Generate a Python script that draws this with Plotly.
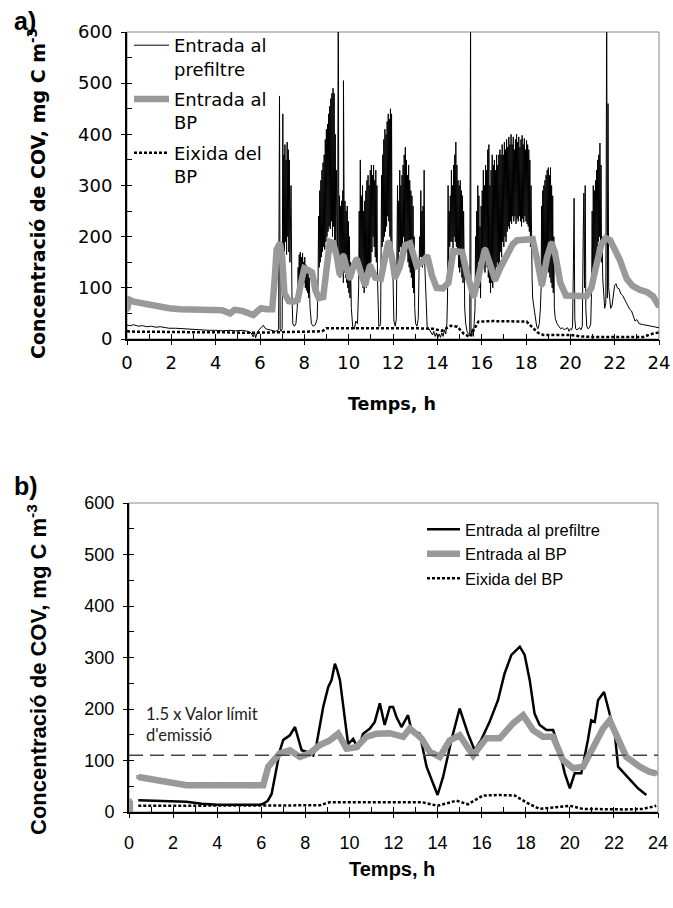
import plotly.graph_objects as go

# ---------------- data: panel a) (raw readings) ----------------
# irregular readings: baseline, isolated spikes and gaps between busy periods
PREF_A_T = [0.00, 0.15, 0.30, 0.50, 0.70, 0.90, 1.10, 1.30, 1.50, 1.70, 1.90, 2.20, 2.50, 2.80, 3.10,
            3.40, 3.70, 4.00, 4.30, 4.60, 4.90, 5.20, 5.45, 5.60, 5.70, 5.75, 5.80, 5.87, 5.95, 6.05,
            6.15, 6.25, 6.40, 6.55, 6.70, 6.84, 6.88, 6.91, 6.95, 7.00, 7.03,
            7.40, 7.44, 7.48, 7.55, 7.62, 7.68,
            8.26, 8.32, 8.40, 8.50, 8.58,
            9.50, 9.53, 9.545, 9.765,
            10.12, 10.18, 10.26, 10.32, 10.40,
            11.36, 11.40, 11.44,
            12.00, 12.04, 12.10, 12.15,
            13.02, 13.08, 13.14,
            13.48, 13.54, 13.62, 13.70, 13.78, 13.84, 13.90, 13.96, 14.02, 14.08, 14.14, 14.20, 14.26,
            14.32, 14.38, 14.43,
            15.28, 15.34, 15.40, 15.46, 15.50, 15.52, 15.58, 15.62, 15.66,
            18.30, 18.36, 18.42, 18.48, 18.54, 18.60, 18.65,
            19.32, 19.40, 19.48, 19.56, 19.64, 19.72, 19.80, 19.88, 19.94, 20.00, 20.06, 20.10, 20.14,
            20.17, 20.20, 20.24, 20.30, 20.36, 20.42, 20.48, 20.54, 20.58, 20.61, 20.64, 20.67, 20.70,
            20.74, 20.80, 20.86, 20.92,
            21.50, 21.55, 21.60, 21.64, 21.67, 21.70, 21.73, 21.76, 21.82, 21.88, 21.94, 22.00, 22.06,
            22.12, 22.20, 22.28, 22.36, 22.44, 22.52, 22.60, 22.68, 22.76, 22.84, 22.92, 23.00, 23.10,
            23.30, 23.50, 23.70, 23.85, 24.00]
PREF_A_V = [27, 26, 28, 25, 26, 24, 25, 23, 24, 22, 21, 21, 20, 19, 18,
            18, 17, 17, 16, 17, 16, 17, 15, 12, 4, 14, 2, 12, 18, 22,
            27, 20, 18, 16, 15, 18, 475, 20, 15, 20, 440,
            300, 90, 30, 25, 30, 60,
            60, 30, 25, 28, 40,
            160, 640, 150, 505,
            60, 25, 20, 35, 30,
            25, 25, 30,
            120, 35, 25, 40,
            30, 25, 40,
            80, 25, 20, 15, 8, 15, 5, 12, 2, 10, 3, 12, 5,
            18, 10, 30,
            30, 15, 10, 8, 640, 10, 20, 5, 30,
            80, 60, 40, 25, 20, 30, 60,
            40, 30, 25, 20, 22, 18, 20, 22, 15, 20, 18, 25, 150,
            275, 40, 20, 18, 20, 22, 18, 25, 200, 285, 100, 300, 60,
            25, 20, 22, 30,
            80, 60, 70, 640, 80, 460, 100, 80, 60, 65, 90, 105, 108,
            100, 98, 88, 85, 78, 72, 65, 58, 55, 45, 35, 38, 30,
            28, 26, 25, 23, 22]

# busy periods, one reading every 1.5 min (0.025 h) from the listed start hour
STEP_A = 0.025
BLK_0705 = [180, 360, 170, 380, 190, 350, 165, 385, 200, 370, 170, 350, 150]
BLK_0772 = [140, 110, 165, 120, 170, 125, 160, 115, 168, 120, 150, 110, 160, 100, 145, 95, 140, 90,
            130, 80, 120]
BLK_0862 = [120, 240, 140, 290, 150, 310, 160, 330, 170, 345, 180, 360, 175, 390, 190, 410, 200, 420,
            210, 440, 220, 455, 215, 470, 230, 480, 200, 490, 220, 480, 180, 400, 150, 330, 160]
BLK_0956 = [150, 280, 120, 260, 140, 270, 130, 290, 110, 280, 130, 270, 120, 250, 110, 260, 100, 230,
            90, 200, 80, 150]
BLK_1045 = [100, 250, 120, 350, 130, 280, 110, 300, 100, 250, 90, 270, 120, 290, 100, 310, 120, 320,
            140, 300, 120, 330, 150, 340, 170, 320, 200, 340, 180, 310, 160, 330, 150, 300, 120, 80]
BLK_1146 = [150, 320, 180, 360, 190, 390, 200, 410, 210, 400, 220, 425, 240, 440, 230, 430, 200, 450,
            190, 440, 150]
BLK_1218 = [160, 300, 140, 270, 170, 330, 180, 300, 150, 320, 170, 340, 200, 360, 180, 375, 190, 350,
            170, 320, 150, 340, 140, 310, 130, 290, 120, 280, 100, 260, 90, 200, 60]
BLK_1318 = [150, 200, 160, 290, 160, 250, 140, 260, 150, 330, 150, 120]
BLK_1446 = [80, 300, 150, 250, 180, 280, 190, 330, 190, 300, 160, 340, 200, 360, 190, 385, 180, 340,
            170, 310, 140, 300, 130, 310, 140, 290, 120, 280, 110, 250, 90, 60]
BLK_1570 = [60, 200, 110, 250, 120, 300, 150, 280, 100, 220, 80, 260, 130, 290, 150, 330, 140, 300,
            130, 340]
BLK_1620 = [150, 330, 140, 370, 120, 380, 110, 300, 90, 330, 110, 360, 100, 340, 130, 350, 120, 330,
            140, 360, 150, 340, 130, 360,
            150, 370, 170, 360, 160, 380, 190, 360, 180, 385, 200, 370, 190, 390, 210, 375, 220, 395,
            215, 380,
            230, 400, 225, 380, 240, 395, 230, 370, 240, 390, 225, 400, 235, 385, 230, 395, 240, 375,
            230, 390, 220, 398, 235, 380, 228, 392, 240, 370, 230, 388, 225, 380,
            220, 370, 210, 350, 180, 300, 150, 120]
BLK_1868 = [100, 260, 130, 290, 140, 300, 130, 310, 120, 320, 150, 330, 140, 335, 130, 320, 120, 335,
            110, 300, 100, 280, 90, 200, 60]
BLK_2096 = [100, 250, 120, 300, 140, 290, 150, 310, 160, 330, 180, 350, 190, 360, 200, 383, 180, 340,
            150, 200, 120]
BUSY_A = [(7.05, BLK_0705), (7.72, BLK_0772), (8.62, BLK_0862), (9.56, BLK_0956), (10.45, BLK_1045),
          (11.46, BLK_1146), (12.18, BLK_1218), (13.18, BLK_1318), (14.46, BLK_1446),
          (15.70, BLK_1570), (16.20, BLK_1620), (18.68, BLK_1868), (20.96, BLK_2096)]

BP_A_T = [0.00, 0.10, 0.30, 0.60, 1.00, 1.40, 1.90, 2.40, 2.90, 3.40, 3.90, 4.30, 4.65, 4.85, 5.20,
          5.50, 5.70, 5.90, 6.05, 6.30, 6.55, 6.65, 6.75, 6.90, 7.00, 7.10, 7.30, 7.50, 7.70, 7.85,
          8.00, 8.20, 8.35, 8.50, 8.65, 8.85, 9.00, 9.15, 9.30, 9.45, 9.60, 9.76, 9.90, 10.05, 10.20,
          10.36, 10.55, 10.74, 10.96, 11.20, 11.45, 11.62, 11.79, 11.95, 12.09, 12.30, 12.55, 12.77,
          12.95, 13.07, 13.30, 13.55, 13.75, 13.97, 14.25, 14.50, 14.72, 14.95, 15.12, 15.35, 15.65,
          15.85, 16.15, 16.35, 16.60, 16.85, 17.13, 17.40, 17.60, 18.00, 18.30, 18.50, 18.72, 18.95,
          19.15, 19.30, 19.55, 19.80, 20.10, 20.40, 20.73, 20.95, 21.15, 21.40, 21.60, 21.80, 22.00,
          22.24, 22.54, 22.80, 23.14, 23.45, 23.74, 23.90, 24.00]
BP_A_V = [57, 77, 73, 70, 66, 63, 60, 58, 57, 57, 56, 56, 50, 57, 55,
          50, 47, 55, 60, 58, 58, 110, 175, 187, 160, 90, 74, 73, 76, 110,
          138, 134, 130, 95, 80, 82, 140, 190, 188, 164, 125, 164, 140, 118, 140,
          157, 130, 105, 144, 120, 118, 160, 190, 160, 120, 140, 183, 187,
          160, 143, 150, 162, 125, 100, 99, 110, 172, 172, 170, 125, 83,
          120, 176, 150, 115, 140, 165, 185, 193, 195, 195, 155, 105, 160,
          188, 170, 110, 85, 86, 84, 84, 100, 140, 185, 197, 193, 175,
          154, 118, 104, 96, 92, 83, 70, 64]

OUT_A_T = [0.0, 0.5, 1.5, 2.5, 3.5, 4.5, 5.5, 6.5, 7.5, 8.5, 8.8, 9.0, 10.0, 11.0, 12.0, 13.0, 13.8,
           14.2, 14.6, 14.9, 15.2, 15.47, 15.65, 15.85, 16.5, 17.0, 17.5, 18.03, 18.3, 18.55, 18.78,
           19.5, 20.0, 20.5, 21.0, 22.0, 23.3, 23.6, 24.0]
OUT_A_V = [15, 14, 14, 13, 13, 13, 12, 13, 14, 14, 15, 21, 21, 22, 22, 21, 20,
           16, 26, 24, 10, 4, 18, 34, 35, 35, 35, 34, 22, 12, 8,
           8, 8, 5, 4, 4, 4, 9, 13]

# ---------------- data: panel b) (smoothed) ----------------
PREF_B_T = [0.42, 1.0, 1.8, 2.6, 3.3, 4.0, 5.0, 5.94, 6.09, 6.30, 6.47, 6.70, 6.85, 7.0, 7.3, 7.53,
            7.68, 7.83, 8.05, 8.36, 8.51, 8.81, 9.04, 9.19, 9.34, 9.45, 9.57, 9.72, 9.94, 10.17,
            10.40, 10.62, 10.93, 11.15, 11.38, 11.60, 11.83, 11.98, 12.13, 12.36, 12.66, 12.81,
            13.19, 13.50, 13.72, 14.0, 14.25, 14.63, 15.0, 15.38, 15.68, 15.98, 16.36, 16.74, 17.04,
            17.35, 17.73, 17.95, 18.18, 18.40, 18.63, 18.94, 19.24, 19.46, 19.77, 20.0, 20.22,
            20.52, 20.82, 20.97, 21.13, 21.28, 21.55, 21.81, 22.04, 22.19, 22.41, 22.71, 23.09, 23.47]
PREF_B_V = [23, 22, 21, 20, 16, 14, 14, 14, 16, 22, 35, 88, 120, 140, 149, 165,
            140, 120, 117, 110, 132, 204, 243, 256, 288, 275, 256, 204, 132, 142,
            123, 152, 162, 175, 211, 169, 204, 204, 185, 165, 188, 159,
            152, 88, 62, 33, 68, 140, 201, 152, 120, 140, 175, 217, 269,
            305, 321, 305, 256, 191, 169, 159, 159, 132, 75, 46, 75,
            75, 140, 178, 175, 217, 233, 188, 152, 88, 78, 65, 46, 33]

BP_B_T = [0.04, 0.04, None, 0.42, 1.0, 1.86, 2.61, 3.3, 4.1, 4.9, 5.64, 6.09, 6.32, 6.54, 6.84, 7.3,
          7.75, 8.2, 8.66, 9.11, 9.49, 9.87, 10.32, 10.77, 11.23, 11.83, 12.44, 12.74, 13.27,
          13.64, 14.1, 14.55, 15.0, 15.61, 16.21, 16.82, 17.42, 17.88, 18.33, 18.78, 19.24,
          19.69, 20.15, 20.6, 21.06, 21.51, 21.81, 22.11, 22.56, 23.17, 23.62, 23.92]
BP_B_V = [0, 22, None, 68, 63, 58, 52, 52, 52, 51, 50, 52, 88, 101, 114, 120,
          107, 114, 130, 139, 152, 123, 126, 146, 152, 153, 146, 162, 143,
          117, 107, 139, 149, 110, 143, 143, 172, 188, 159, 146, 146,
          101, 85, 88, 126, 162, 178, 152, 107, 88, 78, 75]

OUT_B_T = [0.42, 2.0, 4.0, 5.94, 7.0, 8.66, 9.11, 10.0, 11.0, 12.0, 13.3, 14.0, 14.85, 15.38,
           16.06, 16.8, 17.5, 18.18, 18.63, 19.3, 20.0, 20.6, 21.5, 22.5, 23.32, 23.92]
OUT_B_V = [12, 12, 12, 12, 12, 13, 19, 19, 19, 19, 19, 12, 22, 15,
           32, 33, 32, 15, 6, 9, 12, 6, 5, 5, 6, 12]

EMISSION_LIMIT_15 = 110          # 1.5 x valor límit d'emissió
Y_TICKS = [0, 100, 200, 300, 400, 500, 600]
X_TICKS = list(range(0, 25, 2))

# merge the irregular readings with the busy periods into one time-ordered series
pref_a = list(zip(PREF_A_T, PREF_A_V))
for t0, vals in BUSY_A:
    pref_a += [(round(t0 + i * STEP_A, 4), v) for i, v in enumerate(vals)]
pref_a.sort()
pref_a_t = [p[0] for p in pref_a]
pref_a_v = [p[1] for p in pref_a]

# ---------------- page geometry (pixels) ----------------
W, H = 673, 908
def fx(p):
    return p / W
def fy(p):
    return 1 - p / H

GRAY = "#999999"
FONT_A = "DejaVu Sans"
FONT_B = "Liberation Sans, Arial"

fig = go.Figure()

# panel a)
fig.add_trace(go.Scatter(x=pref_a_t, y=pref_a_v, mode="lines", name="Entrada al<br>prefiltre",
                         line=dict(color="black", width=1), xaxis="x", yaxis="y",
                         legend="legend", legendgroup="a1"))
fig.add_trace(go.Scatter(x=BP_A_T, y=BP_A_V, mode="lines+markers", name="Entrada al<br>BP",
                         line=dict(color=GRAY, width=6.5), marker=dict(symbol="square", size=4, color=GRAY),
                         xaxis="x", yaxis="y", legend="legend", legendgroup="a2"))
fig.add_trace(go.Scatter(x=OUT_A_T, y=OUT_A_V, mode="lines", name="Eixida del<br>BP",
                         line=dict(color="black", width=2.5, dash="3px,2px"), xaxis="x", yaxis="y",
                         legend="legend", legendgroup="a3"))

# panel b)
fig.add_trace(go.Scatter(x=PREF_B_T, y=PREF_B_V, mode="lines", name="Entrada al prefiltre",
                         line=dict(color="black", width=2.5), xaxis="x2", yaxis="y2", legend="legend2"))
fig.add_trace(go.Scatter(x=BP_B_T, y=BP_B_V, mode="lines+markers", name="Entrada al BP",
                         line=dict(color=GRAY, width=6.5), marker=dict(symbol="square", size=4, color=GRAY),
                         xaxis="x2", yaxis="y2", legend="legend2", connectgaps=False))
fig.add_trace(go.Scatter(x=OUT_B_T, y=OUT_B_V, mode="lines", name="Eixida del BP",
                         line=dict(color="black", width=2.5, dash="3px,2px"), xaxis="x2", yaxis="y2",
                         legend="legend2"))
fig.add_trace(go.Scatter(x=[0, 24], y=[EMISSION_LIMIT_15, EMISSION_LIMIT_15], mode="lines",
                         line=dict(color="#444444", width=1.5, dash="14px,7px"), showlegend=False,
                         xaxis="x2", yaxis="y2"))

# empty traces that carry the crossing-tick overlay axes
fig.add_trace(go.Scatter(x=[None], y=[None], xaxis="x3", yaxis="y3", showlegend=False))
fig.add_trace(go.Scatter(x=[None], y=[None], xaxis="x4", yaxis="y4", showlegend=False))

dom_x_a = [fx(127), fx(659)]
dom_y_a = [fy(339), fy(32)]
dom_x_b = [fx(129), fx(658)]
dom_y_b = [fy(812), fy(503)]

def base_x(domain, anchor):
    return dict(domain=domain, anchor=anchor, range=[0, 24], showgrid=False, zeroline=False,
                showline=True, linecolor="black", linewidth=2, ticks="inside", dtick=1, tick0=0,
                ticklen=5, tickwidth=1, tickcolor="black", showticklabels=False, fixedrange=True)

def base_y(domain, anchor):
    return dict(domain=domain, anchor=anchor, range=[0, 600], showgrid=False, zeroline=False,
                showline=True, linecolor="black", linewidth=2, ticks="inside", dtick=50, tick0=0,
                ticklen=5, tickwidth=1, tickcolor="black", showticklabels=False, fixedrange=True)

def over_x(base, anchor, font, size, standoff):
    return dict(overlaying=base, anchor=anchor, range=[0, 24], showgrid=False, zeroline=False,
                showline=False, ticks="outside", tickvals=X_TICKS, ticklen=5, tickwidth=1,
                tickcolor="black", tickfont=dict(family=font, size=size, color="black"),
                ticklabelstandoff=standoff, fixedrange=True)

def over_y(base, anchor, font, size, standoff):
    return dict(overlaying=base, anchor=anchor, side="left", range=[0, 600], showgrid=False,
                zeroline=False, showline=False, ticks="outside", tickvals=Y_TICKS, ticklen=5,
                tickwidth=1, tickcolor="black", tickfont=dict(family=font, size=size, color="black"),
                ticklabelstandoff=standoff, fixedrange=True)

fig.update_layout(
    width=W, height=H, margin=dict(l=0, r=0, t=0, b=0, autoexpand=False),
    paper_bgcolor="white", plot_bgcolor="white",
    xaxis=base_x(dom_x_a, "y"), yaxis=base_y(dom_y_a, "x"),
    xaxis2=base_x(dom_x_b, "y2"), yaxis2=base_y(dom_y_b, "x2"),
    xaxis3=over_x("x", "y3", FONT_A, 18, 2), yaxis3=over_y("y", "x3", FONT_A, 18, 5),
    xaxis4=over_x("x2", "y4", FONT_B, 18, 9), yaxis4=over_y("y2", "x4", FONT_B, 18, 5),
    legend=dict(x=fx(129), y=fy(27), xanchor="left", yanchor="top", bgcolor="rgba(0,0,0,0)",
                font=dict(family=FONT_A, size=18, color="black"), valign="top", tracegroupgap=4,
                itemwidth=35),
    legend2=dict(x=fx(422), y=fy(512), xanchor="left", yanchor="top", bgcolor="rgba(0,0,0,0)",
                 font=dict(family=FONT_B, size=16.5, color="black"), tracegroupgap=0, itemwidth=33),
    showlegend=True,
)

# light frame around each plot area
for xr, yr in (("x domain", "y domain"), ("x2 domain", "y2 domain")):
    fig.add_shape(type="rect", xref=xr, yref=yr, x0=0, x1=1, y0=0, y1=1,
                  line=dict(color="#868686", width=1), layer="below")

ann = []
ann.append(dict(text="<b>a)</b>", x=fx(12), y=fy(21), xanchor="left", yanchor="middle",
                font=dict(family=FONT_B, size=25, color="black")))
ann.append(dict(text="<b>b)</b>", x=fx(12), y=fy(486), xanchor="left", yanchor="middle",
                font=dict(family=FONT_B, size=25, color="black")))
ann.append(dict(text="<b>Concentració de COV, mg C m<sup>-3</sup></b>", x=fx(37), y=fy(194),
                textangle=-90, xanchor="center", yanchor="middle",
                font=dict(family=FONT_A, size=19, color="black")))
ann.append(dict(text="<b>Concentració de COV, mg C m<sup>-3</sup></b>", x=fx(37), y=fy(670),
                textangle=-90, xanchor="center", yanchor="middle",
                font=dict(family=FONT_B, size=22, color="black")))
ann.append(dict(text="<b>Temps, h</b>", x=fx(392), y=fy(404), xanchor="center", yanchor="middle",
                font=dict(family=FONT_A, size=17.5, color="black")))
ann.append(dict(text="<b>Temps, h</b>", x=fx(392), y=fy(869), xanchor="center", yanchor="middle",
                font=dict(family=FONT_B, size=20, color="black")))
ann.append(dict(text="1.5 x Valor límit<br>d'emissió", x=fx(144), y=fy(724), xanchor="left",
                yanchor="middle", align="left", font=dict(family="Lato", size=16.5, color="#222222")))
for a in ann:
    a.update(xref="paper", yref="paper", showarrow=False)
fig.update_layout(annotations=ann)

fig.write_html("out.html")
